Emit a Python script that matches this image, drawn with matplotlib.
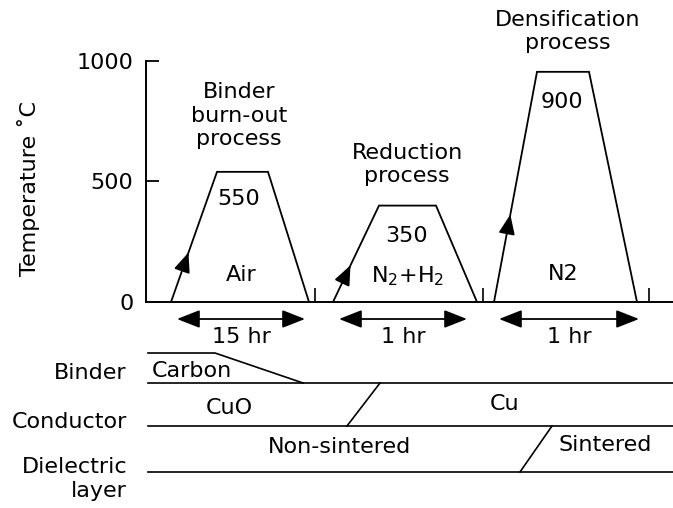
import matplotlib
matplotlib.use('Agg')
import matplotlib.pyplot as plt

plt.rcParams['font.family'] = ['DejaVu Sans']
FS = 16

# firing profiles (schematic time units, temperature in C as drawn)
p1_time = [25, 71, 122, 163]
p1_temp = [0, 540, 540, 0]
p2_time = [187, 233, 290, 331]
p2_temp = [0, 400, 400, 0]
p3_time = [348, 391, 443, 491]
p3_temp = [0, 955, 955, 0]
profiles = [(p1_time, p1_temp), (p2_time, p2_temp), (p3_time, p3_temp)]

stage_ticks = [169, 337, 503]
y_ticks = [0, 500, 1000]

process_names = ['Binder\nburn-out\nprocess', 'Reduction\nprocess', 'Densification\nprocess']
process_label_pos = [(93, 772), (261, 571), (422, 1122)]
peak_labels = ['550', '350', '900']
peak_label_pos = [(93, 427), (261, 274), (416, 830)]
atmospheres = ['Air', r'N$_2$+H$_2$', 'N2']
atm_pos = [(95, 112), (262, 108), (417, 116)]

durations = ['15 hr', '1 hr', '1 hr']
duration_span = [(31, 159), (193, 321), (353, 493)]

# lower diagram: row boundaries (depth below baseline)
binder_top = -51
row_lines = [-81, -124, -170]
row_names = ['Binder', 'Conductor', 'Dielectric\nlayer']
row_name_y = [-71, -120, -177]

fig = plt.figure(figsize=(6.73, 5.08), dpi=100)
ax = fig.add_axes([146 / 673, 206 / 508, 527 / 673, 302 / 508])
ax.set_xlim(0, 527)
ax.set_ylim(0, 1253)

for t, T in profiles:
    ax.plot(t, T, color='black', lw=1.3, solid_joinstyle='miter')
    # arrowhead on the heating ramp
    f0, f1 = 0.30, 0.38
    x0 = t[0] + (t[1] - t[0]) * f0
    y0 = T[0] + (T[1] - T[0]) * f0
    x1 = t[0] + (t[1] - t[0]) * f1
    y1 = T[0] + (T[1] - T[0]) * f1
    ax.annotate('', xy=(x1, y1), xytext=(x0, y0),
                arrowprops=dict(arrowstyle='-|>,head_length=1.2,head_width=0.5',
                                mutation_scale=10, color='black', lw=1.3,
                                shrinkA=0, shrinkB=0))

for s, (x, y) in zip(process_names, process_label_pos):
    ax.text(x, y, s, ha='center', va='center', fontsize=FS, linespacing=1.22)
for s, (x, y) in zip(peak_labels, peak_label_pos):
    ax.text(x, y, s, ha='center', va='center', fontsize=FS)
for s, (x, y) in zip(atmospheres, atm_pos):
    ax.text(x, y, s, ha='center', va='center', fontsize=FS)

ax.spines['top'].set_visible(False)
ax.spines['right'].set_visible(False)
ax.spines['left'].set_bounds(0, 1000)
ax.spines['left'].set_linewidth(1.4)
ax.spines['bottom'].set_linewidth(1.4)
ax.set_yticks(y_ticks)
ax.set_yticklabels([str(v) for v in y_ticks], fontsize=FS)
ax.tick_params(axis='y', direction='in', length=9, width=1.3, pad=9)
ax.set_xticks(stage_ticks)
ax.set_xticklabels([])
ax.tick_params(axis='x', direction='in', length=10, width=1.2)
ax.set_ylabel('Temperature ˚C', fontsize=FS)
ax.yaxis.set_label_coords((40 - 146) / 527, (302 - 188) / 302)

# lower axes: durations and material states
ax2 = fig.add_axes([146 / 673, 0, 527 / 673, 206 / 508])
ax2.set_xlim(0, 527)
ax2.set_ylim(-206, 0)
ax2.axis('off')

for (a, b), s in zip(duration_span, durations):
    ax2.annotate('', xy=(b, -17), xytext=(a, -17),
                 arrowprops=dict(arrowstyle='<|-|>,head_length=1.4,head_width=0.55',
                                 mutation_scale=10, color='black', lw=1.3,
                                 shrinkA=0, shrinkB=0))
    ax2.text((a + b) / 2, -35, s, ha='center', va='center', fontsize=FS)

lw = 1.2
ax2.plot([2, 69, 157], [binder_top, binder_top, row_lines[0]], color='black', lw=lw)
for y in row_lines:
    ax2.plot([2, 527], [y, y], color='black', lw=lw, clip_on=False)
ax2.plot([234, 201], [row_lines[0], row_lines[1]], color='black', lw=lw)
ax2.plot([406, 374], [row_lines[1], row_lines[2]], color='black', lw=lw)

ax2.text(6, -69, 'Carbon', ha='left', va='center', fontsize=FS)
ax2.text(83, -106, 'CuO', ha='center', va='center', fontsize=FS)
ax2.text(359, -102, 'Cu', ha='center', va='center', fontsize=FS)
ax2.text(194, -145, 'Non-sintered', ha='center', va='center', fontsize=FS)
ax2.text(459, -143, 'Sintered', ha='center', va='center', fontsize=FS)

for s, y in zip(row_names, row_name_y):
    ax2.text(-19, y, s, ha='right', va='center', fontsize=FS,
             multialignment='right', linespacing=1.2, clip_on=False)

fig.savefig('out.png', dpi=100)
